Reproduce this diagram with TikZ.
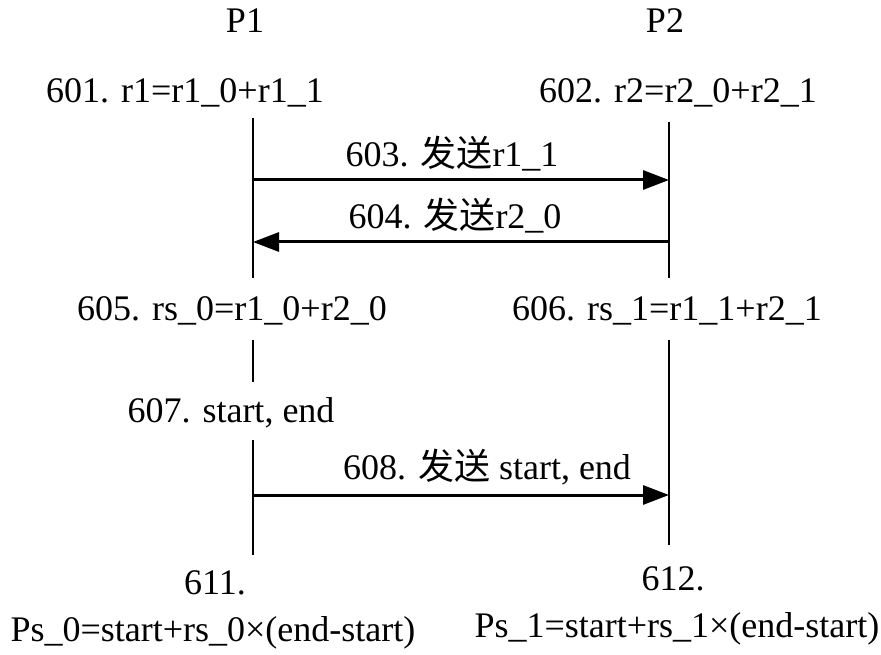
\documentclass[tikz,border=0pt]{standalone}
\usepackage{fontspec}
\setmainfont{Liberation Serif}
\newfontfamily\cjk{Noto Sans CJK SC}
\usetikzlibrary{arrows.meta}
\begin{document}
\begin{tikzpicture}[x=1pt,y=-1pt,
  lbl/.style={inner sep=0pt,anchor=base,font=\fontsize{36}{40}\selectfont},
  life/.style={line width=2.6pt},
  msg/.style={line width=3pt,-{Triangle[length=26pt,width=19pt]}}]
\useasboundingbox (0,0) rectangle (881,655);
% participants
\node[lbl] (p1) at (245,33) {P1};
\node[lbl] (p2) at (665,33) {P2};
% step labels
\node[lbl] (s601) at (185,103) {601. r1=r1\_0+r1\_1};
\node[lbl] (s602) at (678,103) {602. r2=r2\_0+r2\_1};
\node[lbl] (s603) at (452,167) {603. {\cjk 发送}r1\_1};
\node[lbl] (s604) at (455,229) {604. {\cjk 发送}r2\_0};
\node[lbl] (s605) at (232,320) {605. rs\_0=r1\_0+r2\_0};
\node[lbl] (s606) at (667,320) {606. rs\_1=r1\_1+r2\_1};
\node[lbl] (s607) at (231,422) {607. start, end};
\node[lbl] (s608) at (487,479) {608. {\cjk 发送} start, end};
\node[lbl] (s611) at (215,594) {611.};
\node[lbl] (s611b) at (213,641) {Ps\_0=start+rs\_0×(end-start)};
\node[lbl] (s612) at (673,590) {612.};
\node[lbl] (s612b) at (677,637) {Ps\_1=start+rs\_1×(end-start)};
% lifeline anchor points
\coordinate (a1) at (253,118); \coordinate (a2) at (253,278);
\coordinate (a3) at (253,340); \coordinate (a4) at (253,382);
\coordinate (a5) at (253,440); \coordinate (a6) at (253,555);
\coordinate (b1) at (669,122); \coordinate (b2) at (669,278);
\coordinate (b3) at (669,340); \coordinate (b4) at (669,545);
% lifelines
\draw[life] (a1) -- (a2);
\draw[life] (a3) -- (a4);
\draw[life] (a5) -- (a6);
\draw[life] (b1) -- (b2);
\draw[life] (b3) -- (b4);
% messages
\coordinate (m1a) at (253,180); \coordinate (m1b) at (669,180);
\coordinate (m2a) at (253,242); \coordinate (m2b) at (669,242);
\coordinate (m3a) at (253,495); \coordinate (m3b) at (669,495);
\draw[msg] (m1a) -- (m1b);
\draw[msg] (m2b) -- (m2a);
\draw[msg] (m3a) -- (m3b);
\end{tikzpicture}
\end{document}
